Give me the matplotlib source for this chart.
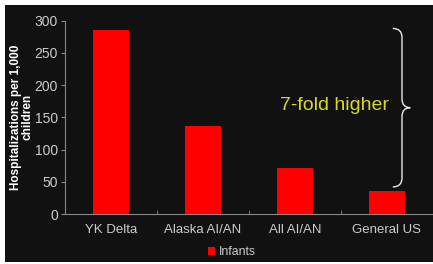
import matplotlib
matplotlib.use("Agg")
import matplotlib.pyplot as plt
from matplotlib.patches import Rectangle, PathPatch
from matplotlib.path import Path

categories = ["YK Delta", "Alaska AI/AN", "All AI/AN", "General US"]
infants = [285, 136, 71, 36]
yticks = [0, 50, 100, 150, 200, 250, 300]

BG = "#111111"
TXT = "#cccccc"

plt.rcParams["font.family"] = ["Liberation Sans", "DejaVu Sans"]

fig = plt.figure(figsize=(4.33, 2.64), dpi=100, facecolor="white")
# dark slide panel, white margin top/left
fig.patches.append(Rectangle((5 / 433, 2 / 264), 1, 257 / 264, transform=fig.transFigure,
                             facecolor=BG, edgecolor="none", zorder=-10))

ax = fig.add_axes([65 / 433, 50 / 264, 368 / 433, 193.3 / 264])
ax.set_facecolor(BG)
ax.patch.set_alpha(0)

x = range(len(categories))
bars = ax.bar(x, infants, width=0.4, color="#ff0000", label="Infants", zorder=3)

ax.set_xlim(-0.5, len(categories) - 0.5)
ax.set_ylim(0, 300)
ax.set_yticks(yticks)
ax.set_xticks(x)
ax.set_xticklabels(categories)
ax.set_xticks([i + 0.5 for i in range(len(categories) - 1)], minor=True)
ax.tick_params(axis="x", which="major", length=0, pad=7, colors=TXT, labelsize=9.5)
ax.tick_params(axis="x", which="minor", length=3, direction="in", color="#888888")
ax.tick_params(axis="y", length=3, color="#888888", colors=TXT, labelsize=10, pad=2)
for s in ["top", "right"]:
    ax.spines[s].set_visible(False)
ax.spines["left"].set_color("#888888")
ax.spines["bottom"].set_color("#888888")

ax.set_ylabel("Hospitalizations per 1,000\nchildren", color="white", fontsize=8.5,
              fontweight="bold", linespacing=1.0, labelpad=0.5)

# curly brace between YK Delta and General US
xb = 3.163
top, bot = infants[0] + 3, infants[-1] + 6
mid = (top + bot) / 2
hx, px = 0.1, 0.09
r = 14
verts = [(xb - hx, top), (xb, top), (xb, top - r),
         (xb, mid + r), (xb, mid), (xb + px, mid),
         (xb, mid), (xb, mid - r),
         (xb, bot + r), (xb, bot), (xb - hx, bot)]
codes = [Path.MOVETO, Path.CURVE3, Path.CURVE3,
         Path.LINETO, Path.CURVE3, Path.CURVE3,
         Path.CURVE3, Path.CURVE3,
         Path.LINETO, Path.CURVE3, Path.CURVE3]
ax.add_patch(PathPatch(Path(verts, codes), facecolor="none", edgecolor="#e8e8e8",
                       lw=1.0, clip_on=False, zorder=4))
ax.text(2.43, mid + 3, "7-fold higher", color="#d8d82a", fontsize=14,
        ha="center", va="center")

leg = fig.legend(handles=[bars], labels=["Infants"], loc="center",
                 bbox_to_anchor=(0.535, 0.045), frameon=False, fontsize=8.8,
                 handlelength=0.6, handleheight=0.6, handletextpad=0.3,
                 labelcolor=TXT)

fig.savefig("out.png", dpi=100, facecolor="white")
